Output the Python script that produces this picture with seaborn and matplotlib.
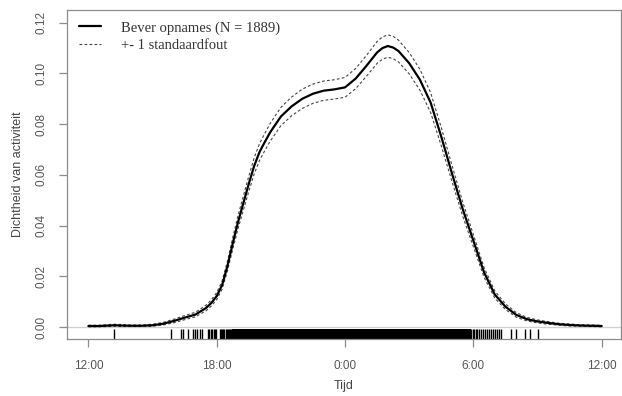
import numpy as np
import pandas as pd
import matplotlib
matplotlib.use("Agg")
import matplotlib.pyplot as plt
import seaborn as sns

# hours after 12:00 (0 = 12:00, 12 = 0:00, 24 = 12:00 next day)
hours = [0, 0.5, 1.0, 1.25, 1.5, 2.0, 2.5, 3.0, 3.5, 4.0, 4.5, 5.0, 5.5, 5.75,
         6.0, 6.25, 6.5, 6.75, 7.0, 7.25, 7.5, 7.75, 8.0, 8.25, 8.5, 9.0, 9.5,
         10.0, 10.5, 11.0, 11.5, 12.0, 12.5, 13.0, 13.5, 13.75, 14.0, 14.25,
         14.5, 15.0, 15.5, 16.0, 16.5, 17.0, 17.5, 18.0, 18.5, 19.0, 19.5,
         20.0, 20.5, 21.0, 21.5, 22.0, 22.5, 23.0, 24.0]
density = [0.0004, 0.0004, 0.0006, 0.0007, 0.0006, 0.0005, 0.0005, 0.0007,
           0.0013, 0.0024, 0.0037, 0.0049, 0.0075, 0.0095, 0.0122, 0.0165,
           0.0240, 0.0330, 0.0415, 0.0490, 0.0565, 0.0635, 0.0690, 0.0730,
           0.0768, 0.0830, 0.0870, 0.0900, 0.0920, 0.0932, 0.0937, 0.0945,
           0.0980, 0.1030, 0.1083, 0.1100, 0.1108, 0.1102, 0.1088, 0.1040,
           0.0975, 0.0885, 0.0750, 0.0605, 0.0465, 0.0340, 0.0215, 0.0128,
           0.0080, 0.0048, 0.0031, 0.0022, 0.0016, 0.0011, 0.0008, 0.0006,
           0.0004]
std_err = [0.0003, 0.0003, 0.0004, 0.0004, 0.0004, 0.0003, 0.0003, 0.0004,
           0.0005, 0.0007, 0.0008, 0.0009, 0.0011, 0.0012, 0.0014, 0.0016,
           0.0019, 0.0023, 0.0026, 0.0028, 0.0030, 0.0032, 0.0033, 0.0034,
           0.0035, 0.0036, 0.0037, 0.0038, 0.0038, 0.0038, 0.0038, 0.0039,
           0.0040, 0.0041, 0.0043, 0.0044, 0.0044, 0.0044, 0.0043, 0.0042,
           0.0041, 0.0039, 0.0036, 0.0032, 0.0028, 0.0024, 0.0019, 0.0014,
           0.0011, 0.0009, 0.0007, 0.0006, 0.0005, 0.0004, 0.0004, 0.0003,
           0.0003]

# observations (rug), hours after 12:00
rug_sparse = [1.22, 3.87, 4.34, 4.44, 4.65, 4.9, 5.0, 5.1, 5.2, 5.3,
              5.6, 5.65, 5.72, 5.8, 5.86, 5.93, 5.98,
              6.15, 6.2, 6.26, 6.3, 6.36, 6.42, 6.47, 6.52, 6.57, 6.62, 6.67,
              17.9, 17.96, 18.02, 18.1, 18.18, 18.25, 18.35, 18.45, 18.55,
              18.62, 18.72, 18.82, 18.9, 19.0, 19.1, 19.2, 19.3,
              19.77, 20.0, 20.4, 20.63, 21.02]
rug_dense_span = [6.7, 17.88]

tick_hours = [0, 6, 12, 18, 24]
tick_labels = ["12:00", "18:00", "0:00", "6:00", "12:00"]

df = pd.DataFrame({"uur": hours, "dichtheid": density, "se": std_err})
df["boven"] = df["dichtheid"] + df["se"]
df["onder"] = df["dichtheid"] - df["se"]

sns.set_style("white")
plt.rcParams["font.family"] = ["Liberation Sans", "DejaVu Sans"]

fig = plt.figure(figsize=(6.22, 3.96), dpi=100)
ax = fig.add_axes([0.1077, 0.1439, 0.8907, 0.8321])

ax.axhline(0, color="#cfcfcf", lw=0.9, zorder=1)

sns.lineplot(data=df, x="uur", y="dichtheid", ax=ax, color="black", lw=1.6,
             label="Bever opnames (N = 1889)", zorder=3)
sns.lineplot(data=df, x="uur", y="boven", ax=ax, color="#444444", lw=0.8,
             dashes=False, label="+- 1 standaardfout", zorder=2)
sns.lineplot(data=df, x="uur", y="onder", ax=ax, color="#444444", lw=0.8,
             zorder=2)
for ln in ax.lines[2:]:
    ln.set_linestyle((0, (2.5, 2)))

sns.rugplot(x=rug_sparse, ax=ax, height=0.03, color="black", lw=0.7,
            expand_margins=False)
ax.axvspan(rug_dense_span[0], rug_dense_span[1], ymin=0, ymax=0.03,
           color="black", lw=0)

ax.set_xlim(-1.0, 24.9)
ax.set_ylim(-0.00473, 0.1252)
ax.set_xticks(tick_hours)
ax.set_xticklabels(tick_labels)
ax.set_yticks([0.00, 0.02, 0.04, 0.06, 0.08, 0.10, 0.12])
ax.set_yticklabels(["0.00", "0.02", "0.04", "0.06", "0.08", "0.10", "0.12"],
                   rotation=90, va="center")

for s in ax.spines.values():
    s.set_color("#8c8c8c")
    s.set_linewidth(0.9)
ax.tick_params(axis="both", which="major", length=6, width=0.9,
               color="#8c8c8c", labelcolor="#555555", labelsize=8.5,
               left=True, bottom=True)
ax.tick_params(axis="x", pad=9)
ax.tick_params(axis="y", pad=8)

ax.set_xlabel("Tijd", fontsize=9, color="#444444", labelpad=6)
ax.set_ylabel("Dichtheid van activiteit", fontsize=9, color="#444444",
              labelpad=8)

handles, labels = ax.get_legend_handles_labels()
leg = ax.legend(handles[:2], labels[:2], loc="upper left",
                bbox_to_anchor=(0.0, 1.0), frameon=False,
                handlelength=1.5, handletextpad=1.4, labelspacing=0.3,
                borderaxespad=0.4,
                prop={"family": ["Liberation Serif"], "size": 10.5})
for t in leg.get_texts():
    t.set_color("#333333")

fig.savefig("out.png", dpi=100)
